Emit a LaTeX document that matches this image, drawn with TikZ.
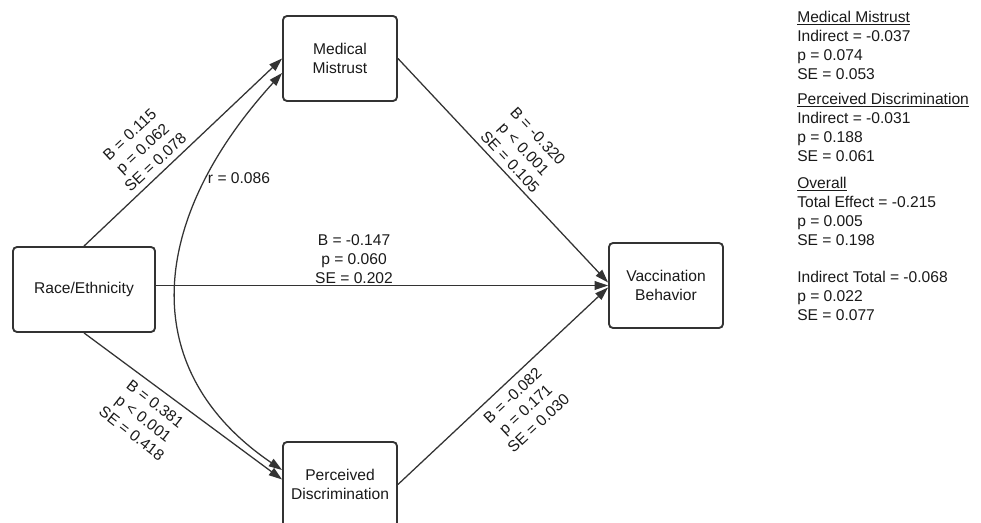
\documentclass[tikz,border=0pt]{standalone}
\usepackage{fontspec}
\setmainfont{Liberation Sans}
\usetikzlibrary{arrows.meta,calc}
\definecolor{edge}{HTML}{333333}
\definecolor{txt}{HTML}{1A1A1A}
\begin{document}
\begin{tikzpicture}[x=0.75pt,y=-0.75pt,
  every node/.style={font=\fontsize{11.7}{14.25}\selectfont, text=txt},
  box/.style={draw=edge, line width=1.4pt, rounded corners=3pt, minimum width=85.5pt, minimum height=63.75pt, align=center, inner sep=0pt},
  conn/.style={draw=edge, line width=0.95pt, -{Triangle[length=10pt,width=6.5pt]}},
  corr/.style={draw=edge, line width=0.95pt, {Triangle[length=10pt,width=6.5pt]}-{Triangle[length=10pt,width=6.5pt]}},
  lbl/.style={align=center, inner sep=0pt},
  side/.style={anchor=west, align=left, inner sep=0pt},
]
\useasboundingbox (0,0) rectangle (981,523);
\fill[white] (0,0) rectangle (981,523);

% boxes
\node[box] (MM) at (340,58.5) {Medical\\Mistrust};
\node[box, minimum width=106.5pt] (RE) at (84,289.5) {Race/Ethnicity};
\node[box] (PD) at (340,484.5) {Perceived\\Discrimination};
\node[box] (VB) at (666,285.5) {Vaccination\\Behavior};

% connectors
\draw[conn] (RE.north) -- (MM.west);
\draw[conn] (RE.south) -- ($(PD.west)+(0,-5)$);
\draw[conn] (RE.east |- VB.west) -- (VB.west);
\draw[conn] (MM.east) -- ($(VB.west)+(0,-3)$);
\draw[conn] (PD.east) -- ($(VB.west)+(0,2)$);
\draw[corr] ($(PD.west)+(0,-14.5)$) .. controls (135,370) and (148,220) .. ($(MM.west)+(0,14.5)$);

% path labels
\node[lbl, rotate=43] (l1) at (142.5,148.5) {B = 0.115\\p = 0.062\\SE = 0.078};
\node[lbl, rotate=-47] (l2) at (524,149) {B = -0.320\\p {<} 0.001\\SE = 0.105};
\node[lbl] (l3) at (354,259) {B = -0.147\\p = 0.060\\SE = 0.202};
\node[lbl, rotate=-38] (l4) at (143.5,418.5) {B = 0.381\\p {<} 0.001\\SE = 0.418};
\node[lbl, rotate=43] (l5) at (525.5,409.5) {B = -0.082\\p = 0.171\\SE = 0.030};
\node[lbl] (r) at (239,178) {r = 0.086};

% summary
\node[side] (s1) at (797,45) {\underline{Medical Mistrust}\\Indirect = -0.037\\p = 0.074\\SE = 0.053};
\node[side] (s2) at (797,127) {\underline{Perceived Discrimination}\\Indirect = -0.031\\p = 0.188\\SE = 0.061};
\node[side] (s3) at (797,211) {\underline{Overall}\\Total Effect = -0.215\\p = 0.005\\SE = 0.198};
\node[side] (s4) at (797,296) {Indirect Total = -0.068\\p = 0.022\\SE = 0.077};
\end{tikzpicture}
\end{document}
